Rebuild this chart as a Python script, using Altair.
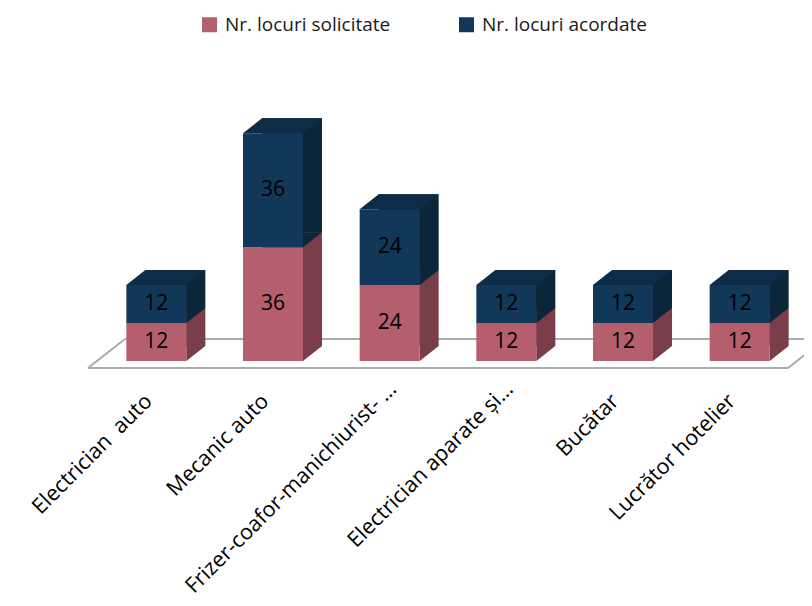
import altair as alt
import pandas as pd

# ---- data ----
categories = [
    "Electrician \u00a0auto",
    "Mecanic auto",
    "Frizer-coafor-manichiurist- …",
    "Electrician aparate și…",
    "Bucătar",
    "Lucrător hotelier",
]
series_names = ["Nr. locuri solicitate", "Nr. locuri acordate"]
solicitate = [12, 36, 24, 12, 12, 12]
acordate = [12, 36, 24, 12, 12, 12]

# ---- styles ----
FONT = "Open Sans"
FRONT = ["#B55E6D", "#113859"]
SIDE = ["#7A3E4A", "#0B2639"]
TOP = "#0E2C47"
FLOOR = "#ABABAB"
BW_HALF, DX, DY = 30, 19, 15
TOP_PATH = f"M{-BW_HALF},0L{BW_HALF},0L{BW_HALF+DX},{-DY}L{-BW_HALF+DX},{-DY}Z"
TRI_PATH = f"M{BW_HALF},0L{BW_HALF+DX},{-DY}L{BW_HALF},{-DY}Z"
TRUNC_TEST = "indexof(datum.label, '…') >= 0"

rows = []
for i, c in enumerate(categories):
    s, a = solicitate[i], acordate[i]
    rows.append(dict(cat=c, series=series_names[0], start=0, end=s, value=s))
    rows.append(dict(cat=c, series=series_names[1], start=s, end=s + a, value=a))
df = pd.DataFrame(rows)
df["mid"] = (df["start"] + df["end"]) / 2

x_enc = alt.X(
    "cat:N",
    sort=categories,
    title=None,
    scale=alt.Scale(paddingInner=0.4857, paddingOuter=0.2429),
    axis=alt.Axis(
        labelAngle=-45,
        labelFont=FONT,
        labelFontSize=21.5,
        labelColor="#000000",
        labelPadding=alt.condition(TRUNC_TEST, alt.value(17), alt.value(29)),
        labelOffset=alt.condition(TRUNC_TEST, alt.value(-4), alt.value(-15)),
        labelLimit=400,
        domain=False,
        ticks=False,
        tickSize=0,
        grid=False,
    ),
)
y_scale = alt.Scale(domain=[0, 80])

base = alt.Chart(df)

# floor (frame decoration)
one = alt.Data(values=[{"k": 1}])
floor_specs = [
    (-10, 690, 260, 260),
    (27, 760, 231, 231),
    (-10, 27, 260, 231),
    (690, 727, 260, 231),
]
floor_layers = [
    alt.Chart(one).mark_rule(color=FLOOR, strokeWidth=2).encode(
        x=alt.value(a), x2=alt.value(b), y=alt.value(c), y2=alt.value(d)
    )
    for a, b, c, d in floor_specs
]

back_layers = []
tri_layers = []
for k, name in enumerate(series_names):
    back_layers.append(
        base.transform_filter(alt.datum.series == name)
        .mark_bar(color=SIDE[k], xOffset=DX, x2Offset=DX, yOffset=-DY, y2Offset=-DY)
        .encode(x=x_enc, y=alt.Y("start:Q", scale=y_scale, axis=None), y2="end:Q")
    )
    tri_layers.append(
        base.transform_filter(alt.datum.series == name)
        .mark_point(shape=TRI_PATH, size=4, filled=True, opacity=1, color=SIDE[k], strokeWidth=0)
        .encode(x=x_enc, y=alt.Y("start:Q", scale=y_scale, axis=None))
    )

top_layer = (
    base.transform_filter(alt.datum.series == series_names[1])
    .mark_point(shape=TOP_PATH, size=4, filled=True, opacity=1, color=TOP, strokeWidth=0)
    .encode(x=x_enc, y=alt.Y("end:Q", scale=y_scale, axis=None))
)

front = base.mark_bar().encode(
    x=x_enc,
    y=alt.Y("start:Q", scale=y_scale, axis=None),
    y2="end:Q",
    color=alt.Color(
        "series:N",
        scale=alt.Scale(domain=series_names, range=FRONT),
        legend=alt.Legend(
            title=None,
            orient="none",
            direction="horizontal",
            legendX=102,
            legendY=-93,
            symbolType="square",
            symbolSize=225,
            symbolStrokeWidth=0,
            labelFont=FONT,
            labelFontSize=19,
            labelColor="#1a1a1a",
            labelOffset=6,
            labelLimit=400,
            columnPadding=66,
            padding=0,
        ),
    ),
)

labels = base.mark_text(font=FONT, fontSize=21, color="#000000", baseline="middle").encode(
    x=x_enc,
    y=alt.Y("mid:Q", scale=y_scale, axis=None),
    text="value:Q",
)

chart = (
    alt.layer(*floor_layers, *back_layers, *tri_layers, top_layer, front, labels)
    .properties(
        width=700,
        height=253,
        padding={"left": 90, "top": 100, "right": 6, "bottom": 243},
        autosize=alt.AutoSizeParams(type="none"),
    )
    .configure_view(stroke=None)
)

chart.save("out.html", embed_options={"renderer": "svg", "actions": False})
